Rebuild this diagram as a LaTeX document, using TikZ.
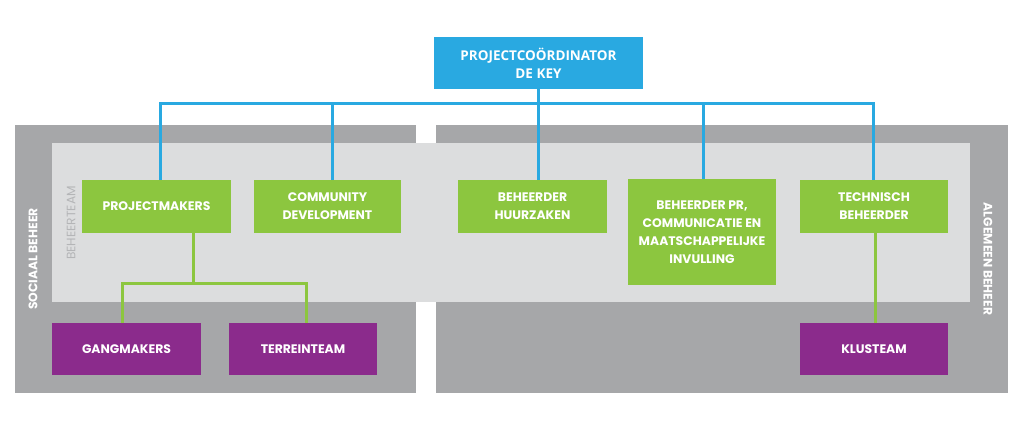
\documentclass[tikz,border=0pt]{standalone}
\usepackage{fontspec}
\setmainfont{Poppins}
\newfontfamily\osans{Open Sans}
\definecolor{cblue}{HTML}{29A9E1}
\definecolor{cgreen}{HTML}{8CC63F}
\definecolor{cpurple}{HTML}{8B2B8C}
\definecolor{cdark}{HTML}{A6A7A9}
\definecolor{clight}{HTML}{DCDDDE}
\definecolor{cteam}{HTML}{B4B5B7}
\begin{document}
\begin{tikzpicture}[x=1pt,y=-1pt,
  box/.style={rectangle, inner sep=0pt, text=white, align=center,
    font=\bfseries\fontsize{12.4}{18}\selectfont, minimum height=53pt},
  gbox/.style={box, fill=cgreen, minimum width=148pt},
  pbox/.style={box, fill=cpurple, minimum width=148pt},
  bline/.style={draw=cblue, line width=3pt},
  gline/.style={draw=cgreen, line width=3pt},
  panel/.style={fill=cdark},
  side/.style={text=white, font=\bfseries\fontsize{12.3}{14}\selectfont}]
\useasboundingbox (0,0) rectangle (1023,425);
\fill[white] (0,0) rectangle (1023,425);
% panels
\fill[panel] (15,125) rectangle (416,393);
\fill[panel] (436,125) rectangle (1008,393);
\fill[clight] (52,143) rectangle (970,302);
% side labels
\node[side, rotate=90] (soc) at (33,259) {SOCIAAL BEHEER};
\node[side, rotate=-90] (alg) at (988,259) {ALGEMEEN BEHEER};
\node[side, text=cteam, font=\fontsize{12.2}{14}\selectfont, rotate=90] (bt) at (71,223) {BEHEERTEAM};
% nodes
\node[box, fill=cblue, minimum width=209pt, minimum height=52pt, font=\osans\bfseries\fontsize{13.5}{18}\selectfont] (top) at (538.5,63) {PROJECTCO\"ORDINATOR\\DE KEY};
\node[gbox, minimum width=149pt] (pm) at (156.5,206.5) {PROJECTMAKERS};
\node[gbox, minimum width=147pt] (cd) at (327.5,206.5) {COMMUNITY\\DEVELOPMENT};
\node[gbox, minimum width=149pt] (hz) at (532.5,206.5) {BEHEERDER\\HUURZAKEN};
\node[gbox, minimum height=105pt] (pr) at (702,232) {BEHEERDER PR,\\COMMUNICATIE EN\\MAATSCHAPPELIJKE\\INVULLING};
\node[gbox] (tb) at (874,206.5) {TECHNISCH\\BEHEERDER};
\node[pbox, minimum width=149pt, minimum height=52pt] (gm) at (126.5,349) {GANGMAKERS};
\node[pbox, minimum height=52pt] (tt) at (303,349) {TERREINTEAM};
\node[pbox, minimum height=52pt] (kt) at (874,349) {KLUSTEAM};
% blue connectors
\coordinate (bus) at (538.5,104);
\draw[bline] (top.south) -- (bus);
\draw[bline] (bus) -| ([xshift=3.5pt]pm.north);
\draw[bline] (bus) -| ([xshift=4.5pt]cd.north);
\draw[bline] (bus) -- ([xshift=6pt]hz.north);
\draw[bline] (bus) -| ([xshift=1pt]pr.north);
\draw[bline] (bus) -| ([xshift=-1pt]tb.north);
% green connectors
\coordinate (gj) at (193,283);
\draw[gline] (gj |- pm.south) -- (gj);
\draw[gline] ([xshift=-4.5pt]gm.north) |- (gj) -| ([xshift=3pt]tt.north);
\draw[gline] ([xshift=1pt]tb.south) -- ([xshift=1pt]kt.north);
\end{tikzpicture}
\end{document}
